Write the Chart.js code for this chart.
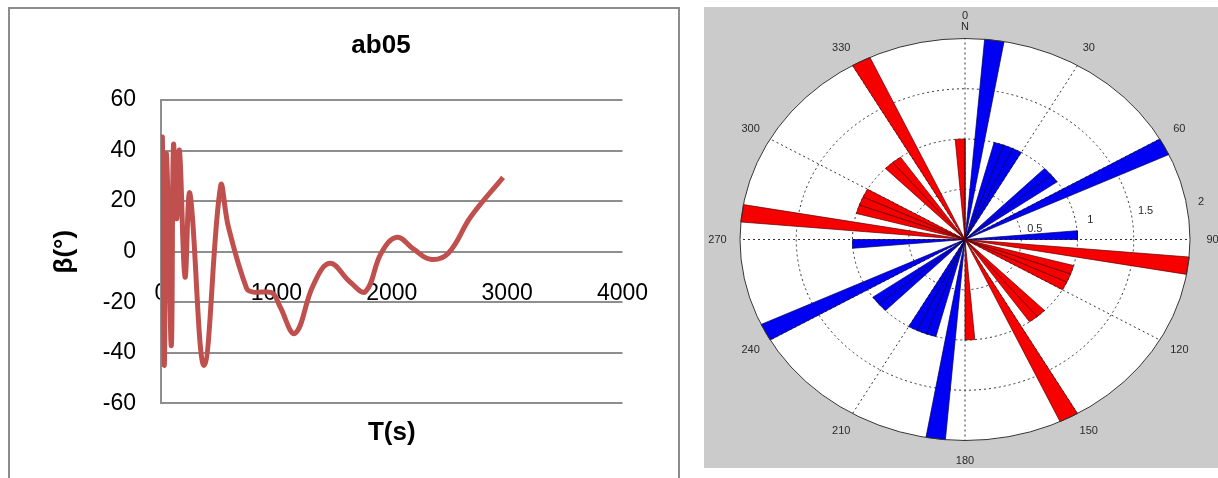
<!DOCTYPE html>
<html>
<head>
<meta charset="utf-8">
<script src="https://cdn.jsdelivr.net/npm/chart.js@4/dist/chart.umd.min.js"></script>
<style>
  html, body { margin: 0; padding: 0; background: #fff; width: 1218px; height: 478px; overflow: hidden; }
  #leftFrame { position: absolute; left: 8px; top: 7px; width: 672px; height: 490px; box-sizing: border-box;
               border: 2px solid #8c8c8c; border-bottom: none; }
  #lineCanvas { position: absolute; left: 0; top: 0; }
  #rightPanel { position: absolute; left: 704px; top: 7px; width: 514px; height: 461px; background: #cbcbcb; z-index: 2; }
  #roseCanvas { position: absolute; left: 0; top: 0; }
</style>
</head>
<body>
<div id="leftFrame"></div>
<canvas id="lineCanvas" width="762" height="478"></canvas>
<div id="rightPanel"><canvas id="roseCanvas" width="514" height="461"></canvas></div>
<script>
// ---- time series: beta angle vs time ----
const timeS   = [0, 12, 28, 45, 60, 90, 108, 136, 160, 208, 251, 373, 517, 583, 742, 800, 880, 970,
                 1031, 1161, 1320, 1464, 1638, 1772, 1908, 2044, 2190, 2335, 2490, 2685, 2965];
const betaDeg = [40, 45, -45, 38, 22, -37, 42, 13, 40, -10, 23, -45, 26, 10, -14.5, -16, -16, -16.5,
                 -21.7, -32.3, -13.2, -4.6, -12, -15.8, -0.6, 5.7, 1, -3, -0.6, 13.8, 29.4];
const yTicks = [-60, -40, -20, 0, 20, 40, 60];
const xTicks = [0, 1000, 2000, 3000, 4000];

// ---- rose diagram: 5-degree bins (start angle, clockwise from north) and counts ----
const binWidth = 5;
const blueBins   = [5, 15, 20, 25, 45, 50, 60, 85, 185, 195, 200, 205, 225, 230, 240, 265];
const blueCounts = [2, 1, 1, 1, 1, 1, 2, 1, 2, 1, 1, 1, 1, 1, 2, 1];
const redBins    = [355, 330, 315, 320, 285, 290, 295, 275, 175, 150, 135, 140, 105, 110, 115, 95];
const redCounts  = [1, 2, 1, 1, 1, 1, 1, 2, 1, 2, 1, 1, 1, 1, 1, 2];
const ringValues = [0.5, 1, 1.5, 2];
const spokeAngles = [0, 30, 60, 90, 120, 150, 180, 210, 240, 270, 300, 330];

const FONT = "'Liberation Sans', Arial, sans-serif";

new Chart(document.getElementById('lineCanvas'), {
  type: 'line',
  data: {
    datasets: [{
      data: timeS.map((t, i) => ({ x: t, y: betaDeg[i] })),
      borderColor: '#C0504D',
      borderWidth: 5,
      pointRadius: 0,
      tension: 0.4,
      fill: false,
      xAxisID: 'x',
      yAxisID: 'y'
    }]
  },
  options: {
    responsive: false,
    animation: false,
    layout: { padding: 0 },
    plugins: {
      legend: { display: false },
      tooltip: { enabled: false },
      title: {
        display: true, text: 'ab05', color: '#000',
        font: { family: FONT, size: 26, weight: 'bold' },
        padding: { top: 30.4, bottom: 38.4 }
      }
    },
    scales: {
      x: {
        type: 'linear', min: 0, max: 4000, position: { y: 0 },
        afterBuildTicks: s => { s.ticks = xTicks.map(v => ({ value: v })); },
        ticks: { padding: 28.5, color: '#000', maxRotation: 0, font: { family: FONT, size: 23 },
                 callback: v => String(v) },
        grid: { display: false, drawTicks: false },
        border: { display: false },
        afterFit: s => { s.height = 0; }
      },
      xTitle: {
        type: 'linear', min: 0, max: 4000, position: 'bottom',
        ticks: { display: false },
        grid: { display: false, drawTicks: false },
        border: { display: false },
        title: { display: true, text: 'T(s)', color: '#000', font: { family: FONT, size: 26, weight: 'bold' },
                 padding: { top: 0, bottom: 29.4 } },
        afterFit: s => { s.height = 74.7; }
      },
      y: {
        type: 'linear', min: -60, max: 60, position: 'left',
        afterBuildTicks: s => { s.ticks = yTicks.map(v => ({ value: v })); },
        ticks: { padding: 25, color: '#000', font: { family: FONT, size: 23 }, callback: v => String(v) },
        grid: { color: '#8e8e8e', lineWidth: 2, drawTicks: false },
        border: { display: true, color: '#8e8e8e', width: 2 },
        title: { display: true, text: 'β(°)', color: '#000', font: { family: FONT, size: 26, weight: 'bold' },
                 padding: { top: 49.4, bottom: 0 } },
        afterFit: s => { s.width = 161; }
      },
      yRight: {
        type: 'linear', position: 'right',
        ticks: { display: false },
        grid: { display: false, drawTicks: false },
        border: { display: false },
        afterFit: s => { s.width = 139.5; }
      }
    }
  }
});

// ---- rose diagram ----
const rad = d => d * Math.PI / 180;
const polarPoint = (r, deg) => ({ x: r * Math.sin(rad(deg)), y: r * Math.cos(rad(deg)) });
const petal = (start, count, color, edge) => ({
  data: [{ x: 0, y: 0 }, polarPoint(count, start), polarPoint(count, start + binWidth), { x: 0, y: 0 }],
  showLine: true,
  fill: 'shape',
  backgroundColor: color,
  borderColor: edge,
  borderWidth: 0.7,
  pointRadius: 0,
  tension: 0
});
const roseDatasets = [
  ...redBins.map((b, i) => petal(b, redCounts[i], '#f70000', '#5a0000')),
  ...blueBins.map((b, i) => petal(b, blueCounts[i], '#0000f2', '#000050'))
];

const polarGrid = {
  id: 'polarGrid',
  beforeDatasetsDraw(chart) {
    const { ctx, scales: { x, y } } = chart;
    const cx = x.getPixelForValue(0), cy = y.getPixelForValue(0);
    const rx = r => x.getPixelForValue(r) - cx;
    const ry = r => cy - y.getPixelForValue(r);
    ctx.save();
    ctx.fillStyle = '#fff';
    ctx.beginPath();
    ctx.ellipse(cx, cy, rx(2), ry(2), 0, 0, Math.PI * 2);
    ctx.fill();
    ctx.strokeStyle = '#333';
    ctx.lineWidth = 1;
    ctx.setLineDash([2, 3]);
    ringValues.slice(0, -1).forEach(r => {
      ctx.beginPath();
      ctx.ellipse(cx, cy, rx(r), ry(r), 0, 0, Math.PI * 2);
      ctx.stroke();
    });
    spokeAngles.forEach(a => {
      const p = polarPoint(2, a);
      ctx.beginPath();
      ctx.moveTo(cx, cy);
      ctx.lineTo(x.getPixelForValue(p.x), y.getPixelForValue(p.y));
      ctx.stroke();
    });
    ctx.restore();
  },
  afterDatasetsDraw(chart) {
    const { ctx, scales: { x, y } } = chart;
    const cx = x.getPixelForValue(0), cy = y.getPixelForValue(0);
    ctx.save();
    ctx.strokeStyle = '#333';
    ctx.lineWidth = 1;
    ctx.beginPath();
    ctx.ellipse(cx, cy, x.getPixelForValue(2) - cx, cy - y.getPixelForValue(2), 0, 0, Math.PI * 2);
    ctx.stroke();
    ctx.fillStyle = '#2a2a2a';
    ctx.font = '11px ' + FONT;
    ctx.textAlign = 'center';
    ctx.textBaseline = 'middle';
    const put = (txt, r, deg) => {
      const p = polarPoint(r, deg);
      ctx.fillText(txt, x.getPixelForValue(p.x), y.getPixelForValue(p.y));
    };
    spokeAngles.forEach(a => put(String(a), a === 0 ? 2.22 : 2.2, a));
    put('N', 2.11, 0);
    ringValues.forEach(r => put(String(r), r + 0.13, 80));
    ctx.restore();
  }
};

new Chart(document.getElementById('roseCanvas'), {
  type: 'scatter',
  data: { datasets: roseDatasets },
  options: {
    responsive: false,
    animation: false,
    layout: { padding: { left: 36, right: 28, top: 31.5, bottom: 27.5 } },
    plugins: { legend: { display: false }, tooltip: { enabled: false } },
    scales: {
      x: { type: 'linear', min: -2, max: 2, display: false },
      y: { type: 'linear', min: -2, max: 2, display: false }
    }
  },
  plugins: [polarGrid]
});
</script>
</body>
</html>
